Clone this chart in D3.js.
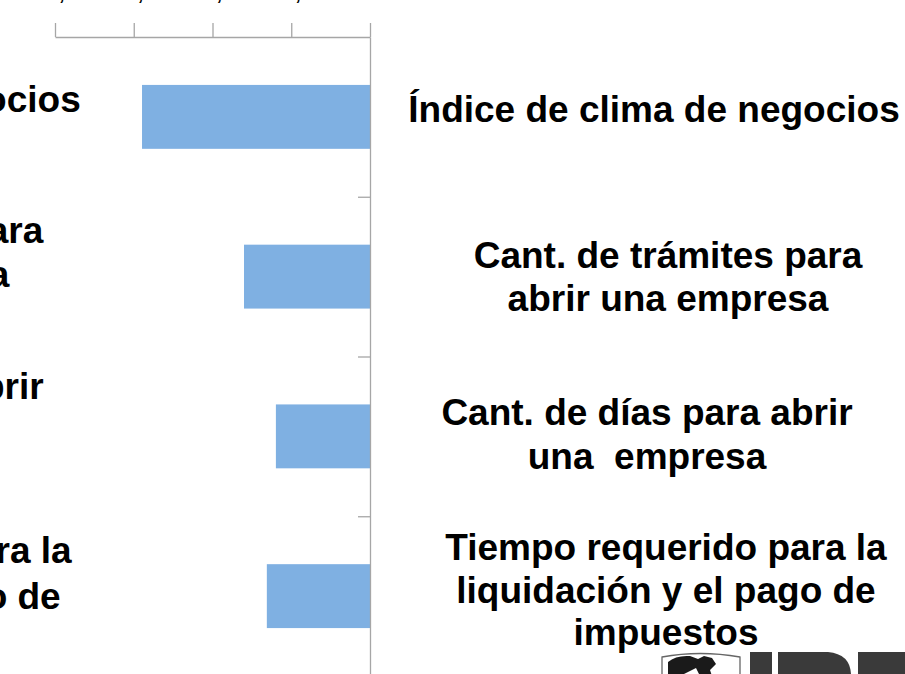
<!DOCTYPE html>
<html>
<head>
<meta charset="utf-8">
<script src="https://cdn.jsdelivr.net/npm/d3@7"></script>
<style>
  html, body { margin: 0; padding: 0; background: #ffffff; }
  svg { display: block; }
</style>
</head>
<body>
<svg id="chart" width="905" height="674"></svg>
<script>
// ---------- data ----------
const categories = [
  ["Índice de clima de negocios"],
  ["Cant. de trámites para", "abrir una empresa"],
  ["Cant. de días para abrir", "una  empresa"],
  ["Tiempo requerido para la", "liquidación y el pago de", "impuestos"]
];
const values = [-0.579, -0.32, -0.239, -0.262];
const tickValues = [-0.8, -0.6, -0.4, -0.2, 0];

// ---------- layout (not data) ----------
const W = 905, H = 674;
const axisX = 370, axisTop = 37, axisBottom = 676, axisLeft = 55;
const fontFamily = "'Liberation Sans', Arial, Helvetica, sans-serif";
const barColor = "#7FB0E2";
const axisColor = "#A6A6A6";
// right-hand label blocks: centre x, first baseline, line step
const rightLabelPos = [
  { cx: 654, y: 122, step: 43 },
  { cx: 668, y: 268, step: 43 },
  { cx: 647, y: 425, step: 44 },
  { cx: 666, y: 560, step: 42.5 }
];
// left-hand (cut off) label blocks
const leftLabelPos = [
  { cx: -165, y: 112, step: 44 },
  { cx: -151, y: 243, step: 44 },
  { cx: -162, y: 399, step: 44 },
  { cx: -149, y: 563, step: 46 }
];

const svg = d3.select("#chart");

const x = d3.scaleLinear().domain([-0.8, 0]).range([axisLeft, axisX]);
const y = d3.scaleBand().domain(d3.range(categories.length))
  .range([axisTop, axisBottom]).paddingInner(0.6).paddingOuter(0.3);
const yEdge = d3.scaleLinear().domain([0, categories.length]).range([axisTop, axisBottom]);

// bars
svg.append("g").selectAll("rect").data(values).join("rect")
  .attr("x", d => x(d))
  .attr("y", (d, i) => y(i))
  .attr("width", d => x(0) - x(d))
  .attr("height", y.bandwidth())
  .attr("fill", barColor);

// top value axis
const locale = d3.formatLocale({ decimal: ",", thousands: ".", grouping: [3], currency: ["", ""], minus: "-" });
const fmt = locale.format(".1~f");
const xAxis = svg.append("g").attr("transform", `translate(0,${axisTop})`)
  .call(d3.axisTop(x).tickValues(tickValues).tickFormat(fmt).tickSize(14).tickSizeOuter(0).tickPadding(23));
xAxis.select(".domain").attr("stroke", axisColor).attr("stroke-width", 1.3);
xAxis.selectAll(".tick line").attr("stroke", axisColor).attr("stroke-width", 1.3);
xAxis.selectAll(".tick text")
  .attr("font-family", fontFamily).attr("font-size", 20).attr("font-weight", "bold")
  .attr("fill", "#000").attr("dx", 3);

// category axis (vertical line at 0 with ticks between categories)
const yAxis = svg.append("g").attr("transform", `translate(${axisX},0)`)
  .call(d3.axisLeft(yEdge).tickValues(d3.range(1, categories.length)).tickFormat("").tickSize(12).tickSizeOuter(0));
yAxis.select(".domain").attr("stroke", axisColor).attr("stroke-width", 1.3);
yAxis.selectAll(".tick line").attr("stroke", axisColor).attr("stroke-width", 1.3);

// labels
function drawLabels(pos) {
  const g = svg.append("g")
    .attr("font-family", fontFamily).attr("font-size", 37).attr("font-weight", "bold")
    .attr("fill", "#000").attr("text-anchor", "middle");
  categories.forEach((lines, i) => {
    const p = pos[i];
    const t = g.append("text").attr("x", p.cx).attr("y", p.y).attr("xml:space", "preserve");
    lines.forEach((ln, j) => {
      t.append("tspan").attr("x", p.cx).attr("y", p.y + j * p.step).text(ln);
    });
  });
}
drawLabels(leftLabelPos);
drawLabels(rightLabelPos);

// logo fragment (bottom right)
const logo = svg.append("g");
logo.append("path")
  .attr("d", "M662,676 L662,657 Q700,650 740,657 L740,676")
  .attr("fill", "none").attr("stroke", "#666").attr("stroke-width", 1.3);
logo.append("path")
  .attr("d", "M668,662 Q676,655 690,656 L698,659 L704,656 L712,658 L716,664 L710,670 L712,676 L700,676 L696,668 L688,672 L680,676 L668,676 Z")
  .attr("fill", "#1a1a1a");
logo.append("rect").attr("x", 750).attr("y", 652).attr("width", 22).attr("height", 24).attr("fill", "#3a3a3a");
logo.append("path")
  .attr("d", "M778,652 L828,652 Q850,654 851,674 L851,676 L778,676 Z")
  .attr("fill", "#3a3a3a");
logo.append("rect").attr("x", 858).attr("y", 652).attr("width", 50).attr("height", 24).attr("fill", "#3a3a3a");
</script>
</body>
</html>
